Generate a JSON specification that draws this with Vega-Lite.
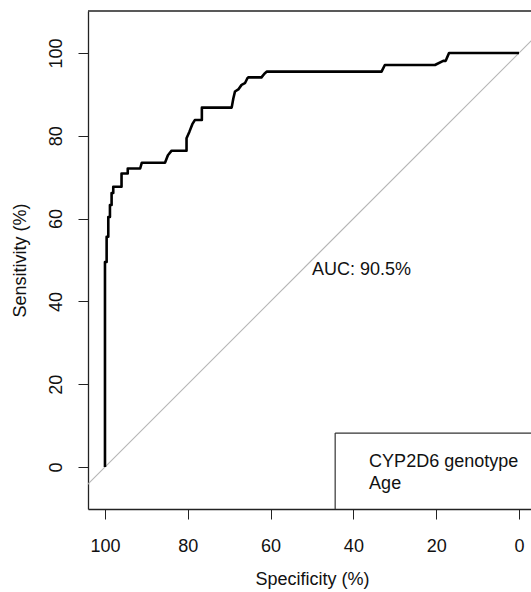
{
  "$schema": "https://vega.github.io/schema/vega-lite/v6.json",
  "width": 443,
  "height": 498,
  "autosize": {"type": "none"},
  "padding": {"left": 88, "top": 11, "right": 0, "bottom": 83},
  "background": "white",
  "config": {
    "view": {"stroke": null},
    "font": "Liberation Sans",
    "axis": {
      "grid": false,
      "domainColor": "#222",
      "tickColor": "#222",
      "labelColor": "#111",
      "titleColor": "#111",
      "labelFont": "Liberation Sans",
      "titleFont": "Liberation Sans",
      "labelFontSize": 18,
      "titleFontSize": 18,
      "titleFontWeight": "normal",
      "tickSize": 10,
      "tickWidth": 1,
      "domainWidth": 1.3,
      "labelFlush": false,
      "labelOverlap": false
    }
  },
  "datasets": {
    "diag": [
      {"spec": 110, "sens": -10},
      {"spec": -10, "sens": 110}
    ],
    "roc": [
      {"i": 0, "spec": 100, "sens": 0},
      {"i": 1, "spec": 100, "sens": 49.5},
      {"i": 2, "spec": 99.6, "sens": 49.5},
      {"i": 3, "spec": 99.6, "sens": 55.6},
      {"i": 4, "spec": 99.2, "sens": 55.6},
      {"i": 5, "spec": 99.2, "sens": 60.4},
      {"i": 6, "spec": 98.8, "sens": 60.4},
      {"i": 7, "spec": 98.8, "sens": 63.3},
      {"i": 8, "spec": 98.4, "sens": 63.3},
      {"i": 9, "spec": 98.4, "sens": 66.2},
      {"i": 10, "spec": 98.0, "sens": 66.2},
      {"i": 11, "spec": 98.0, "sens": 67.7},
      {"i": 12, "spec": 96.0, "sens": 67.7},
      {"i": 13, "spec": 96.0, "sens": 70.9},
      {"i": 14, "spec": 94.5, "sens": 70.9},
      {"i": 15, "spec": 94.5, "sens": 72.1},
      {"i": 16, "spec": 91.5, "sens": 72.1},
      {"i": 17, "spec": 91.1, "sens": 73.5},
      {"i": 18, "spec": 85.5, "sens": 73.5},
      {"i": 19, "spec": 84.8, "sens": 75.3},
      {"i": 20, "spec": 83.9, "sens": 76.4},
      {"i": 21, "spec": 80.3, "sens": 76.4},
      {"i": 22, "spec": 80.3, "sens": 79.4},
      {"i": 23, "spec": 79.6, "sens": 81.0},
      {"i": 24, "spec": 78.9, "sens": 82.8},
      {"i": 25, "spec": 78.3, "sens": 83.8},
      {"i": 26, "spec": 76.6, "sens": 83.8},
      {"i": 27, "spec": 76.6, "sens": 86.8},
      {"i": 28, "spec": 69.4, "sens": 86.8},
      {"i": 29, "spec": 69.0, "sens": 89.0},
      {"i": 30, "spec": 68.6, "sens": 90.7},
      {"i": 31, "spec": 67.8, "sens": 91.2},
      {"i": 32, "spec": 67.0, "sens": 92.3},
      {"i": 33, "spec": 66.2, "sens": 92.7},
      {"i": 34, "spec": 65.6, "sens": 93.9},
      {"i": 35, "spec": 65.4, "sens": 94.1},
      {"i": 36, "spec": 62.2, "sens": 94.1},
      {"i": 37, "spec": 61.5, "sens": 95.0},
      {"i": 38, "spec": 60.9, "sens": 95.5},
      {"i": 39, "spec": 33.2, "sens": 95.5},
      {"i": 40, "spec": 32.4, "sens": 97.1},
      {"i": 41, "spec": 20.3, "sens": 97.1},
      {"i": 42, "spec": 18.3, "sens": 98.1},
      {"i": 43, "spec": 17.7, "sens": 98.1},
      {"i": 44, "spec": 16.9, "sens": 100},
      {"i": 45, "spec": 0, "sens": 100}
    ],
    "legendbox": [
      {"spec": 44.4, "spec2": 44.4, "sens": 8.2, "sens2": -10.14},
      {"spec": 44.4, "spec2": -2.9, "sens": 8.2, "sens2": 8.2}
    ],
    "legendtext": [
      {"spec": 36.2, "sens": 0.0, "label": "CYP2D6 genotype"},
      {"spec": 36.2, "sens": -5.2, "label": "Age"}
    ],
    "auc": [
      {"spec": 50, "sens": 46.4, "label": "AUC: 90.5%"}
    ],
    "top": [
      {"sens": 110.14}
    ]
  },
  "layer": [
    {
      "data": {"name": "diag"},
      "mark": {"type": "line", "color": "#b5b5b5", "strokeWidth": 1.2, "clip": true},
      "encoding": {
        "x": {
          "field": "spec",
          "type": "quantitative",
          "scale": {"domain": [-2.9, 104.1], "reverse": true, "nice": false, "zero": false},
          "axis": {
            "values": [0, 20, 40, 60, 80, 100],
            "title": "Specificity (%)",
            "labelBaseline": "alphabetic",
            "labelPadding": 32,
            "titleX": 224,
            "titleY": 75,
            "titleAlign": "center",
            "titleBaseline": "alphabetic"
          }
        },
        "y": {
          "field": "sens",
          "type": "quantitative",
          "scale": {"domain": [-10.14, 110.14], "nice": false, "zero": false},
          "axis": {
            "values": [0, 20, 40, 60, 80, 100],
            "title": "Sensitivity (%)",
            "labelAngle": 270,
            "labelAlign": "center",
            "labelBaseline": "alphabetic",
            "labelPadding": 17,
            "titleAngle": 270,
            "titleX": -62.5,
            "titleY": 249,
            "titleAlign": "center",
            "titleBaseline": "alphabetic"
          }
        }
      }
    },
    {
      "data": {"name": "top"},
      "mark": {"type": "rule", "color": "#222", "strokeWidth": 1.3},
      "encoding": {
        "y": {"field": "sens", "type": "quantitative"}
      }
    },
    {
      "data": {"name": "roc"},
      "mark": {"type": "line", "color": "#000000", "strokeWidth": 2.6, "strokeJoin": "round"},
      "encoding": {
        "x": {"field": "spec", "type": "quantitative"},
        "y": {"field": "sens", "type": "quantitative"},
        "order": {"field": "i", "type": "quantitative"}
      }
    },
    {
      "data": {"name": "legendbox"},
      "mark": {"type": "rule", "color": "#333", "strokeWidth": 1.2},
      "encoding": {
        "x": {"field": "spec", "type": "quantitative"},
        "x2": {"field": "spec2"},
        "y": {"field": "sens", "type": "quantitative"},
        "y2": {"field": "sens2"}
      }
    },
    {
      "data": {"name": "legendtext"},
      "mark": {"type": "text", "align": "left", "baseline": "alphabetic", "fontSize": 18, "font": "Liberation Sans", "color": "#111"},
      "encoding": {
        "x": {"field": "spec", "type": "quantitative"},
        "y": {"field": "sens", "type": "quantitative"},
        "text": {"field": "label"}
      }
    },
    {
      "data": {"name": "auc"},
      "mark": {"type": "text", "align": "left", "baseline": "alphabetic", "fontSize": 18, "font": "Liberation Sans", "color": "#111"},
      "encoding": {
        "x": {"field": "spec", "type": "quantitative"},
        "y": {"field": "sens", "type": "quantitative"},
        "text": {"field": "label"}
      }
    }
  ]
}
